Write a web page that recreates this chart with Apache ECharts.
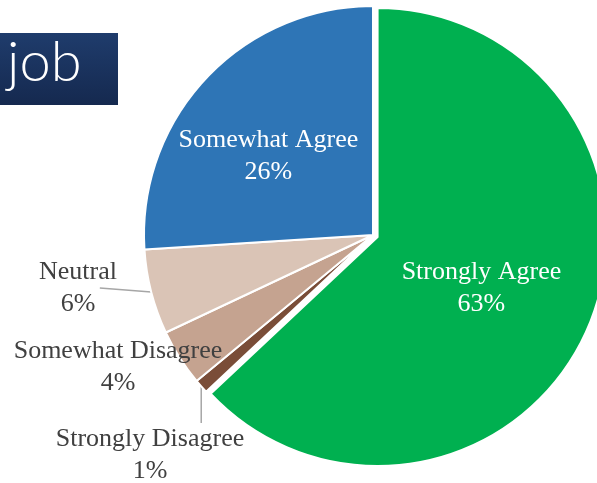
<!DOCTYPE html>
<html>
<head>
<meta charset="utf-8">
<script src="https://cdn.jsdelivr.net/npm/echarts@6/dist/echarts.min.js"></script>
<style>
  html, body { margin: 0; padding: 0; background: #fff; }
  #chart { width: 597px; height: 483px; }
</style>
</head>
<body>
<div id="chart"></div>
<script>
// slices in clockwise order from 12 o'clock
const categories = ["Strongly Agree", "Strongly Disagree", "Somewhat Disagree", "Neutral", "Somewhat Agree"];
const percents = [63, 1, 4, 6, 26];
const colors = ["#00b050", "#7a4d38", "#c5a390", "#dac4b6", "#2e75b6"];
const outsideIdx = [1, 2, 3];

// where the outside labels sit (label layout only)
const outsideLabelPos = {
  1: { x: 150, y: 455 },
  2: { x: 118, y: 367 },
  3: { x: 78, y: 288 },
};

const chart = echarts.init(document.getElementById("chart"));

const seriesData = categories.map((name, i) => {
  const item = { name, value: percents[i], itemStyle: { color: colors[i] } };
  if (i === 0) item.selected = true;
  if (outsideIdx.includes(i)) {
    item.label = { position: "outside", color: "#404040", overflow: "none" };
    item.labelLine = { show: i !== 2, length: 10, length2: 20, lineStyle: { color: "#a6a6a6", width: 1.5 } };
  } else {
    item.label = { overflow: "none" };
  }
  return item;
});

chart.setOption({
  animation: false,
  graphic: [
    {
      type: "rect",
      left: 0,
      top: 33,
      shape: { width: 118, height: 72 },
      style: {
        fill: { type: "linear", x: 0, y: 0, x2: 0, y2: 1, colorStops: [{ offset: 0, color: "#1f3c6c" }, { offset: 1, color: "#15294f" }] },
      },
    },
    {
      type: "text",
      left: 7,
      top: 35,
      style: { text: "job", fill: "#fff", font: "300 56px Lato, 'Open Sans', sans-serif" },
    },
  ],
  series: [
    {
      type: "pie",
      center: [373, 235],
      radius: 229,
      startAngle: 90,
      clockwise: true,
      selectedMode: "single",
      selectedOffset: 5,
      itemStyle: { borderColor: "#fff", borderWidth: 2 },
      label: {
        show: true,
        position: "inside",
        formatter: "{b}\n{c}%",
        color: "#fff",
        fontFamily: "'Liberation Serif', serif",
        fontSize: 26,
        lineHeight: 32,
      },
      labelLayout: (params) => {
        const i = params.dataIndex;
        const p = outsideLabelPos[i];
        if (p) {
          const w = params.labelRect.width;
          const h = params.labelRect.height;
          const start = params.labelLinePoints ? params.labelLinePoints[0] : null;
          let pts;
          if (start && i === 1) {
            // straight down to the top of the label
            pts = [start, [start[0], p.y - h / 2], [start[0], p.y - h / 2]];
          } else if (start && i === 3) {
            // to the gap right of the percentage line
            pts = [start, [p.x + w * 0.28, p.y], [p.x + w * 0.28, p.y]];
          }
          const out = { x: p.x, y: p.y, align: "center", verticalAlign: "middle" };
          if (pts) out.labelLinePoints = pts;
          return out;
        }
        if (i === 4) return { dx: -19, dy: 2 };
        return { dx: -4, dy: 5 };
      },
      emphasis: { disabled: true },
      data: seriesData,
    },
  ],
});
</script>
</body>
</html>
